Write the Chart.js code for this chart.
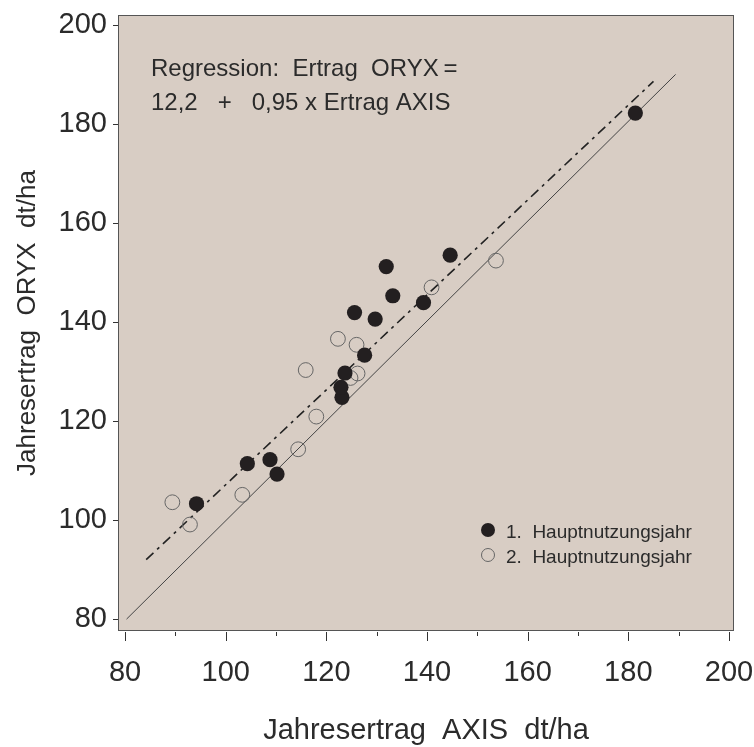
<!DOCTYPE html>
<html>
<head>
<meta charset="utf-8">
<title>Jahresertrag ORYX / AXIS</title>
<script src="https://cdn.jsdelivr.net/npm/chart.js@4/dist/chart.umd.min.js"></script>
<style>
  body { margin: 0; background: #fff; }
</style>
</head>
<body>
<canvas id="ertrag-chart" width="754" height="747"></canvas>
<script>
// 1. Hauptnutzungsjahr (gefuellt)
const axis1 = [94.2, 104.3, 108.8, 110.2, 123.1, 122.9, 123.7, 127.6, 125.6, 129.7, 131.9, 133.2, 139.3, 144.6, 181.4];
const oryx1 = [103.3, 111.4, 112.2, 109.3, 124.8, 126.8, 129.7, 133.3, 141.9, 140.6, 151.2, 145.3, 143.9, 153.5, 182.2];
// 2. Hauptnutzungsjahr (offen)
const axis2 = [89.4, 92.9, 103.3, 114.4, 118.0, 115.9, 122.3, 126.0, 126.2, 124.8, 140.9, 153.7];
const oryx2 = [103.6, 99.1, 105.1, 114.3, 120.9, 130.3, 136.6, 135.4, 129.6, 128.7, 147.0, 152.4];
// Linien: y = x und Regression
const diagX = [80.3, 189.4];
const diagY = [80.0, 190.0];
const regX = [84.2, 185.0];
const regY = [92.0, 188.6];

const seriesLabels = ['1.  Hauptnutzungsjahr', '2.  Hauptnutzungsjahr'];
const regressionText = ['Regression:  Ertrag  ORYX\u2009=', '12,2   +   0,95 x Ertrag AXIS'];

const toPoints = (xs, ys) => xs.map((v, i) => ({ x: v, y: ys[i] }));

const FONT = "'Liberation Sans', Arial, sans-serif";
const TEXT = '#2b2b2b';

// keep the plot box where the original has it
const noPad = scale => {
  scale.paddingLeft = 0;
  scale.paddingRight = 0;
  scale.paddingTop = 0;
  scale.paddingBottom = 0;
};

const framePlugin = {
  id: 'frame',
  beforeDraw(chart) {
    const { ctx, chartArea: a } = chart;
    ctx.save();
    ctx.fillStyle = '#d8cdc4';
    ctx.fillRect(a.left, a.top, a.right - a.left, a.bottom - a.top);
    ctx.restore();
  },
  afterDraw(chart) {
    const { ctx, chartArea: a } = chart;
    const x = chart.scales.x, y = chart.scales.y;
    ctx.save();
    ctx.strokeStyle = '#555';
    ctx.lineWidth = 1;
    ctx.strokeRect(a.left + 0.5, a.top + 0.5, a.right - a.left - 1, a.bottom - a.top - 1);

    // tick marks
    ctx.strokeStyle = '#333';
    x.ticks.forEach(t => {
      const px = Math.round(x.getPixelForValue(t.value)) + 0.5;
      const len = t.value % 20 === 0 ? 9 : 4;
      ctx.beginPath();
      ctx.moveTo(px, a.bottom + 1);
      ctx.lineTo(px, a.bottom + 1 + len);
      ctx.stroke();
    });
    y.ticks.forEach(t => {
      const py = Math.round(y.getPixelForValue(t.value)) + 0.5;
      ctx.beginPath();
      ctx.moveTo(a.left - 5, py);
      ctx.lineTo(a.left, py);
      ctx.stroke();
    });

    // regression text
    ctx.fillStyle = TEXT;
    ctx.font = '24px ' + FONT;
    ctx.textBaseline = 'alphabetic';
    ctx.fillText(regressionText[0], a.left + 33, a.top + 61);
    ctx.fillText(regressionText[1], a.left + 33, a.top + 95);

    // legend
    const lx = a.left + 370, ly = a.top + 515;
    ctx.beginPath();
    ctx.arc(lx, ly, 7, 0, Math.PI * 2);
    ctx.fillStyle = '#231f20';
    ctx.fill();
    ctx.beginPath();
    ctx.arc(lx, ly + 25, 6.5, 0, Math.PI * 2);
    ctx.strokeStyle = '#666';
    ctx.stroke();
    ctx.fillStyle = TEXT;
    ctx.font = '19px ' + FONT;
    ctx.fillText(seriesLabels[0], lx + 18, ly + 8);
    ctx.fillText(seriesLabels[1], lx + 18, ly + 33);
    ctx.restore();
  }
};

const ctx = document.getElementById('ertrag-chart').getContext('2d');
const ertragChart = new Chart(ctx, {
  type: 'scatter',
  data: {
    datasets: [
      {
        label: seriesLabels[0],
        data: toPoints(axis1, oryx1),
        pointRadius: 7.6,
        pointBackgroundColor: '#231f20',
        pointBorderWidth: 0
      },
      {
        label: seriesLabels[1],
        data: toPoints(axis2, oryx2),
        pointRadius: 7.4,
        pointBackgroundColor: 'rgba(0,0,0,0)',
        pointBorderColor: '#666',
        pointBorderWidth: 1
      },
      {
        label: 'Regression',
        data: toPoints(regX, regY),
        showLine: true,
        pointRadius: 0,
        borderColor: '#222',
        borderWidth: 1.6,
        borderDash: [10, 5, 3, 5]
      },
      {
        label: 'y = x',
        data: toPoints(diagX, diagY),
        showLine: true,
        pointRadius: 0,
        borderColor: '#444',
        borderWidth: 1
      }
    ]
  },
  options: {
    responsive: false,
    animation: false,
    layout: { padding: { top: 15, right: 20, left: 0, bottom: 0 } },
    plugins: {
      legend: { display: false },
      tooltip: { enabled: false }
    },
    scales: {
      x: {
        min: 78.6,
        max: 201,
        grid: { display: false },
        border: { display: false },
        ticks: {
          stepSize: 10,
          includeBounds: false,
          maxRotation: 0,
          autoSkip: false,
          padding: 17,
          color: TEXT,
          font: { family: FONT, size: 29 },
          callback: v => (v % 20 === 0 ? v : '')
        },
        title: {
          display: true,
          text: 'Jahresertrag  AXIS  dt/ha',
          color: TEXT,
          font: { family: FONT, size: 29, lineHeight: 1 },
          padding: { top: 0, bottom: 2 }
        },
        afterFit(scale) { scale.height = 116; noPad(scale); }
      },
      y: {
        min: 77.6,
        max: 202,
        grid: { display: false },
        border: { display: false },
        ticks: {
          stepSize: 20,
          includeBounds: false,
          autoSkip: false,
          padding: 3,
          color: TEXT,
          font: { family: FONT, size: 29 }
        },
        title: {
          display: true,
          text: 'Jahresertrag  ORYX  dt/ha',
          color: TEXT,
          font: { family: FONT, size: 26, lineHeight: 1 },
          padding: { top: 15, bottom: 0 }
        },
        afterFit(scale) { scale.width = 118; noPad(scale); }
      }
    }
  },
  plugins: [framePlugin]
});
</script>
</body>
</html>
